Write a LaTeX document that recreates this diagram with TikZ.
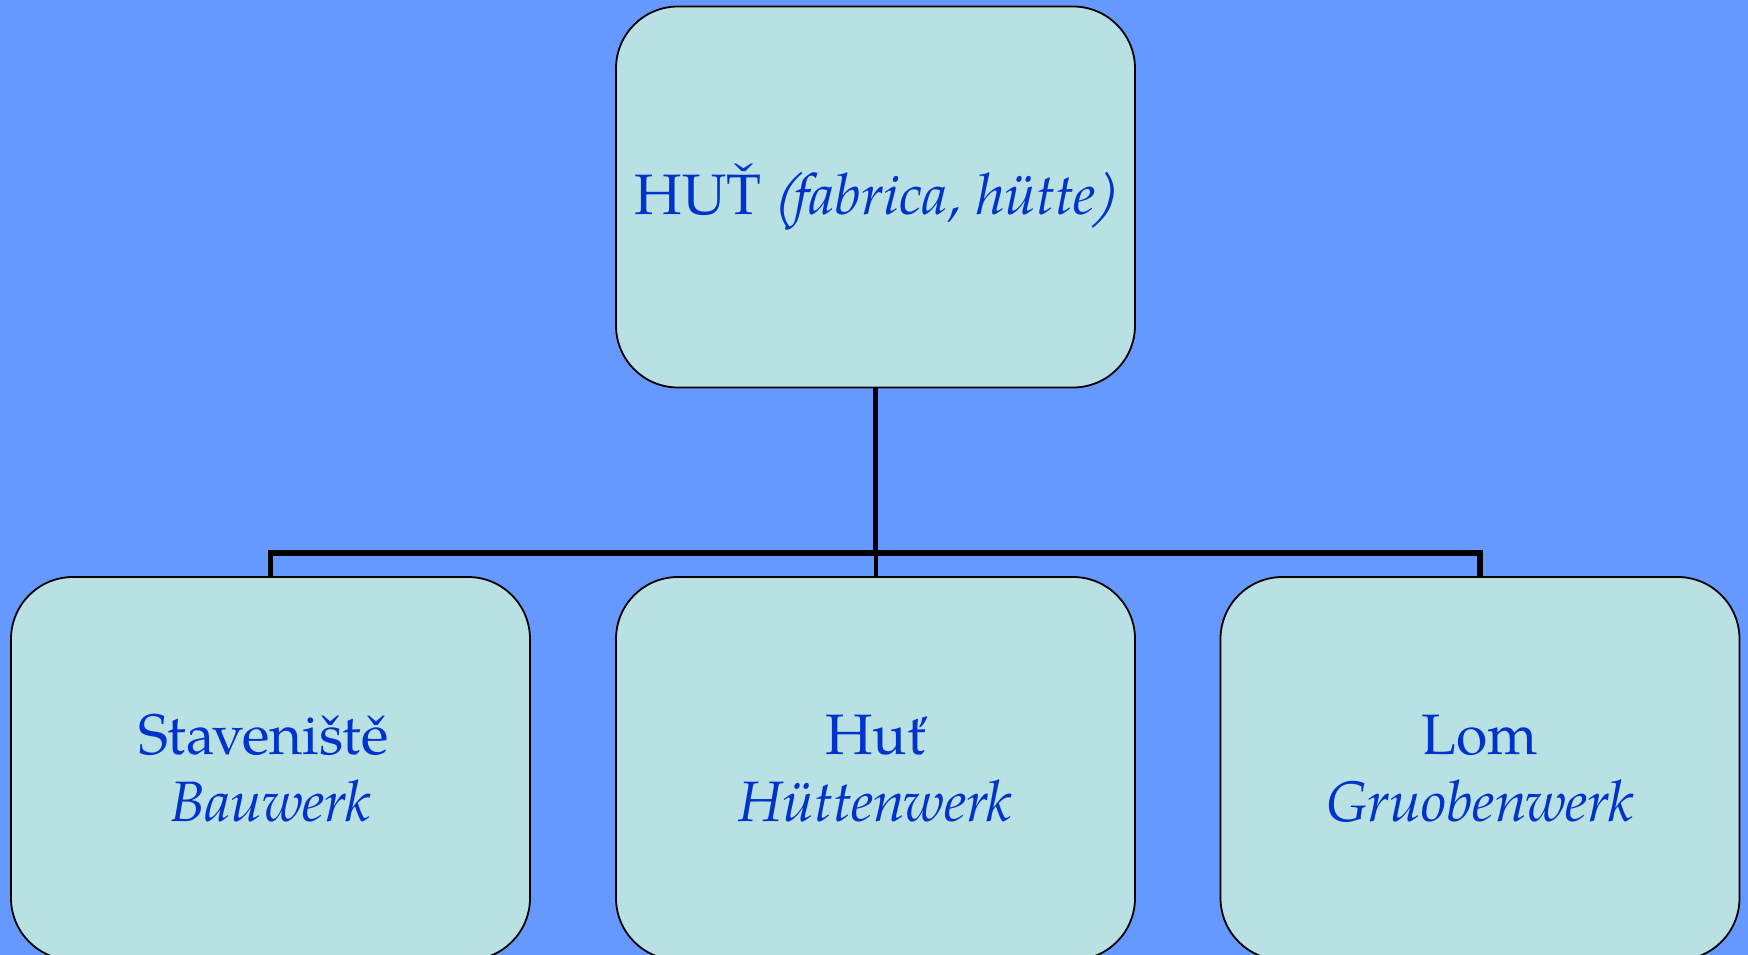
\documentclass[tikz,border=0pt]{standalone}
\usepackage{fontspec}
\setmainfont{TeX Gyre Pagella}
\newfontfamily\parenfont{TeX Gyre Pagella}[FakeSlant=0.25]
\definecolor{bgblue}{HTML}{6699FF}
\definecolor{boxfill}{HTML}{B9E0E3}
\definecolor{txtblue}{HTML}{0033CC}
\begin{document}
\begin{tikzpicture}[x=1pt,y=-1pt,
  box/.style={draw=black,line width=1.8pt,fill=boxfill,rounded corners=62pt,
    minimum width=519pt,minimum height=381pt,inner sep=0pt,align=center,
    text=txtblue,font=\fontsize{57}{67}\selectfont},
  conn/.style={draw=black,line width=5.5pt},
  connthin/.style={draw=black,line width=4pt}]
\useasboundingbox (0,0) rectangle (1748,955);
\fill[bgblue] (0,0) rectangle (1748,955);
\node[box] (top) at (875.5,197) {HUŤ\hspace{-4pt} {\parenfont(}\hspace{-3pt}\textit{fabrica, hütte}{\parenfont\hspace{-5pt})}};
\node[box,minimum height=383pt] (left) at (270.5,768.5) {Staveniště\hspace*{14pt}\\\textit{Bauwerk}};
\node[box,minimum height=383pt] (mid) at (875.5,768.5) {Huť\\\textit{Hüttenwerk}};
\node[box,minimum height=383pt] (right) at (1480,768.5) {Lom\\\textit{Gruobenwerk}};
\coordinate (j) at (875.5,553);
\draw[conn] (top.south) -- (j);
\draw[conn,line join=miter] (left.north) -- (left.north |- j) -- (right.north |- j) -- (right.north);
\draw[connthin] (j) -- (mid.north);
\end{tikzpicture}
\end{document}
